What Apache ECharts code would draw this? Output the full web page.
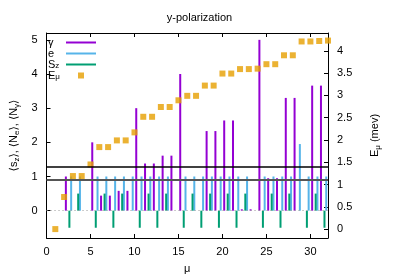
<!DOCTYPE html>
<html><head><meta charset="utf-8">
<script src="https://cdn.jsdelivr.net/npm/echarts@6/dist/echarts.min.js"></script>
<style>html,body{margin:0;padding:0;background:#fff}#c{width:399px;height:279px}</style>
</head><body><div id="c"></div>
<script>
// state index mu
const mu = [1,2,3,4,5,6,7,8,9,10,11,12,13,14,15,16,17,18,19,20,21,22,23,24,25,26,27,28,29,30,31,32];
// <N_gamma>
const gammaN = [0,1.0,0,0,2.0,0.44,0.44,0.58,0.58,3.0,1.38,1.38,1.61,1.61,4.0,0,0,2.33,2.33,2.64,2.64,0.04,0.04,5.0,0.95,0.95,3.3,3.3,0,3.66,3.66,0];
// <N_e>
const elecN = [0,1,1,0,1,1,1,1,1,1,1,1,1,0,1,1,1,1,1,1,1,1,0,1,1,1,1,1.95,1,1,1,0];
// <s_z>
const spinZ = [0,-0.5,0.5,0,-0.5,0.5,-0.5,0.5,0,-0.5,0.5,-0.5,0.5,0,-0.5,0.5,-0.5,0.5,-0.5,0.5,-0.5,0.5,0,-0.5,0.5,-0.5,0.5,0,-0.5,0.5,-0.5,0];
// E_mu (mev)
const energy = [0.0,0.72,1.19,1.19,1.45,1.84,1.84,1.99,1.99,2.17,2.52,2.52,2.74,2.74,2.89,2.99,2.99,3.22,3.22,3.49,3.49,3.59,3.59,3.60,3.70,3.70,3.90,3.90,4.21,4.21,4.22,4.23];
// horizontal reference levels (left axis)
const refLevels = [1.28, 0.905];
// tick labels
const xTicks = [0,5,10,15,20,25,30];
const leftTicks = [0,1,2,3,4,5];
const rightTicks = [0,0.5,1,1.5,2,2.5,3,3.5,4];

const gammaShift = 0.2, spinShift = 0.6, elecShift = 0.8;

const FONT = 'Liberation Sans, Arial, DejaVu Sans, sans-serif';
const chart = echarts.init(document.getElementById('c'), null, {renderer:'canvas'});
const sub = {fontSize: 8, fontFamily: FONT, color:'#000', padding:[6,0,0,0], verticalAlign:'bottom'};
const norm = {fontSize: 11, fontFamily: FONT, color:'#000', verticalAlign:'bottom'};
const subL = Object.assign({}, sub, {align:'left'});
const normL = Object.assign({}, norm, {align:'left'});
const barBase = {type:'bar', barWidth:2, barGap:'-100%', xAxisIndex:0, yAxisIndex:0, silent:true, animation:false};
const lineIcon = 'path://M0,0H30V2H0Z';

chart.setOption({
  animation:false,
  title:{text:'y-polarization', left:'center', top:7, textStyle:{fontSize:11, fontWeight:'normal', fontFamily:FONT, color:'#000'}},
  grid:{left:41, top:33, width:287, height:210, containLabel:false},
  legend:{
    orient:'vertical', left:43, top:32, align:'right', itemWidth:30, itemHeight:6, itemGap:0,
    selectedMode:false,
    data:[{name:'γ', icon:lineIcon},{name:'e', icon:lineIcon},{name:'Sz', icon:lineIcon},{name:'Eμ', icon:'path://M0,0H1V1H0Z'}],
    formatter: n => n==='Sz' ? '{n|S}{s|z}' : n==='Eμ' ? '{n|E}{s|μ}' : '{n|'+n+'}',
    textStyle:{width:13, fontSize:11, fontFamily:FONT, color:'#000', lineHeight:11, rich:{n:normL, s:subL}}
  },
  xAxis:[
    {type:'value', min:0, max:32, position:'bottom',
     axisLine:{onZero:false, lineStyle:{color:'#000', width:1}},
     axisTick:{inside:true, length:4, customValues:xTicks, lineStyle:{color:'#000'}},
     axisLabel:{customValues:xTicks, fontSize:11, fontFamily:FONT, color:'#000', margin:8},
     splitLine:{show:false},
     name:'μ', nameLocation:'middle', nameGap:25, nameTextStyle:{fontSize:11, fontFamily:FONT, color:'#000'}},
    {type:'value', min:0, max:32, position:'top',
     axisLine:{onZero:false, lineStyle:{color:'#000', width:1}},
     axisTick:{inside:true, length:4, customValues:xTicks, lineStyle:{color:'#000'}},
     axisLabel:{show:false}, splitLine:{show:false}}
  ],
  yAxis:[
    {type:'value', min:-0.8, max:5.2, position:'left',
     axisLine:{show:true, onZero:false, lineStyle:{color:'#000', width:1}},
     axisTick:{show:true, inside:true, length:4, customValues:leftTicks, lineStyle:{color:'#000'}},
     axisLabel:{customValues:leftTicks, fontSize:11, fontFamily:FONT, color:'#000', margin:9},
     splitLine:{show:false},
     name:'⟨s{s|z}⟩, ⟨N{s|e}⟩, ⟨N{s|γ}⟩', nameLocation:'middle', nameRotate:90, nameGap:22,
     nameTextStyle:{fontSize:11, fontFamily:FONT, color:'#000', rich:{s:sub}}},
    {type:'value', min:-0.2, max:4.4, position:'right',
     axisLine:{show:true, onZero:false, lineStyle:{color:'#000', width:1}},
     axisTick:{show:true, inside:true, length:4, customValues:rightTicks, lineStyle:{color:'#000'}},
     axisLabel:{customValues:rightTicks, fontSize:11, fontFamily:FONT, color:'#000', margin:9},
     splitLine:{show:false},
     name:'E{s|μ} (mev)', nameLocation:'middle', nameRotate:90, nameGap:40,
     nameTextStyle:{fontSize:11, fontFamily:FONT, color:'#000', rich:{s:sub}}}
  ],
  series:[
    Object.assign({}, barBase, {name:'γ', itemStyle:{color:'#9400D3'}, z:3,
      data: mu.map((m,i)=>[m+gammaShift, gammaN[i]]),
      markLine:{silent:true, symbol:'none', label:{show:false}, animation:false,
        data:[
          {yAxis:0, lineStyle:{color:'#999', type:[1,3], width:1}},
          {yAxis:refLevels[0], lineStyle:{color:'#000', type:'solid', width:1.5}},
          {yAxis:refLevels[1], lineStyle:{color:'#555', type:'solid', width:2}}
        ]}}),
    Object.assign({}, barBase, {name:'e', itemStyle:{color:'#56B4E9'}, z:2,
      data: mu.map((m,i)=>[m+elecShift, elecN[i]])}),
    Object.assign({}, barBase, {name:'Sz', itemStyle:{color:'#009E73'}, z:2,
      data: mu.map((m,i)=>[m+spinShift, spinZ[i]])}),
    {type:'scatter', name:'Eμ', yAxisIndex:1, xAxisIndex:0, symbol:'rect', symbolSize:6,
      itemStyle:{color:'#E69F00'}, z:4, silent:true,
      data: mu.map((m,i)=>[m, energy[i]])}
  ]
});
</script></body></html>
